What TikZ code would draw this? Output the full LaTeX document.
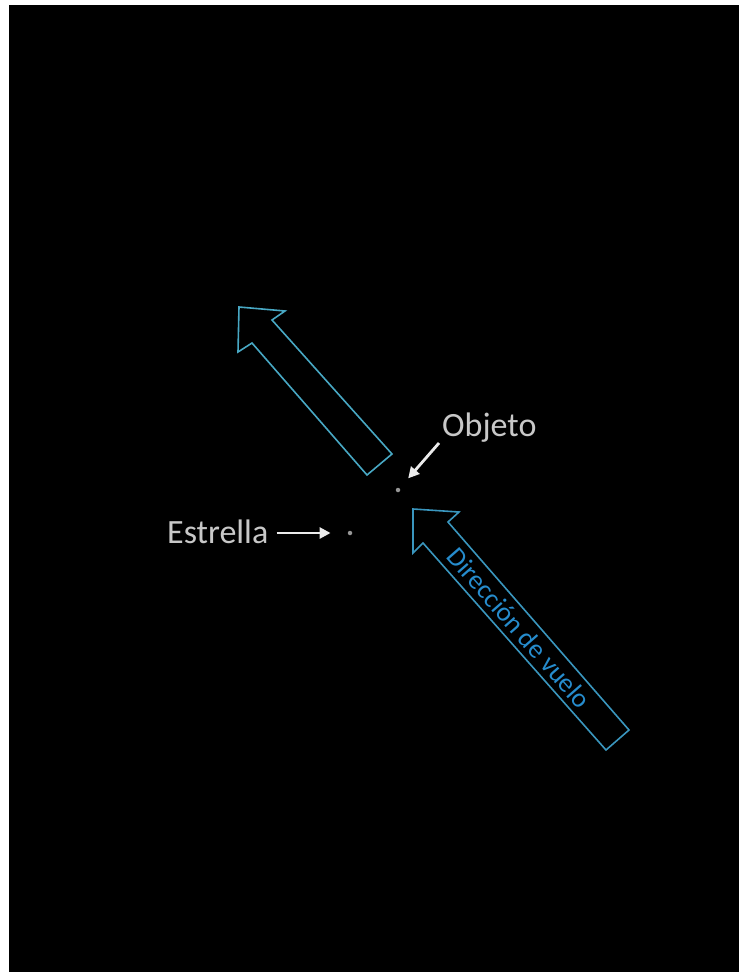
\documentclass[tikz,border=0pt]{standalone}
\usepackage{fontspec}
\setmainfont{Carlito}
\usetikzlibrary{arrows.meta}
\definecolor{outlineA}{RGB}{72,168,196}
\definecolor{outlineB}{RGB}{58,150,190}
\definecolor{flytext}{RGB}{38,140,205}
\definecolor{labelgray}{RGB}{200,200,200}
\definecolor{ptrwhite}{RGB}{235,235,235}
\definecolor{dotgray}{RGB}{150,150,150}
\tikzset{
  blockarrow/.style={line width=1.6pt, line join=miter},
  lbl/.style={inner sep=0pt, text=labelgray, font=\fontsize{34}{40}\selectfont},
  ptr/.style={ptrwhite, line width=2.8pt, -{Triangle[length=11pt,width=11pt]}},
  skydot/.style={circle, fill=dotgray, inner sep=0pt, minimum size=4.5pt},
}
\begin{document}
\begin{tikzpicture}[x=1pt,y=-1pt]
\fill[white] (0,0) rectangle (739,972);
\fill[black] (9,5) rectangle (739,972);
\useasboundingbox (0,0) rectangle (739,972);
% upper block arrow
\draw[blockarrow, outlineA] (239,307) -- (285,311) -- (272,320) -- (392,454) -- (367,475) -- (252,343) -- (238,352) -- cycle;
% lower block arrow
\draw[blockarrow, outlineB] (413,509) -- (459,512) -- (448,522) -- (629,730) -- (606,750) -- (423,543) -- (413,553) -- cycle;
\node[inner sep=0pt, text=flytext, rotate=-48.8, font=\fontsize{27}{30}\selectfont] (vuelo) at (519,628) {Dirección de vuelo};
% objects
\node[skydot] (star) at (350,533) {};
\node[skydot] (obj) at (398,490) {};
\node[lbl, anchor=base west] (estrella) at (167,543) {Estrella};
\node[lbl, anchor=base west] (objeto) at (442,436) {Objeto};
\draw[ptr, shorten <=8pt, shorten >=17pt] (estrella.east |- star) -- (star);
\coordinate (oa) at (439,443);
\draw[ptr, shorten >=13pt] (oa) -- (obj);
\end{tikzpicture}
\end{document}
